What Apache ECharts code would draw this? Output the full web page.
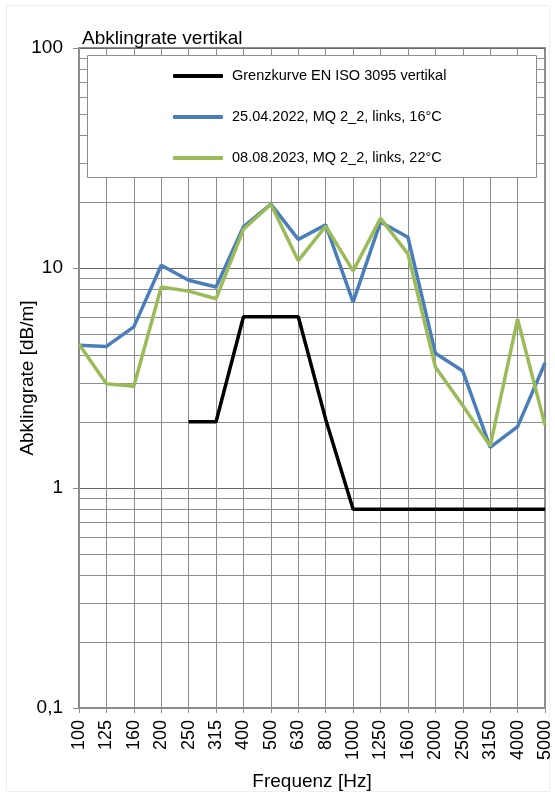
<!DOCTYPE html>
<html>
<head>
<meta charset="utf-8">
<script src="https://cdn.jsdelivr.net/npm/echarts@6/dist/echarts.min.js"></script>
<style>html,body{margin:0;padding:0;background:#fff}#chart{width:555px;height:796px}</style>
</head>
<body>
<div id="chart"></div>
<script>
const categories = ['100','125','160','200','250','315','400','500','630','800','1000','1250','1600','2000','2500','3150','4000','5000'];
const grenzkurve = [null,null,null,null,2,2,6,6,6,2.05,0.8,0.8,0.8,0.8,0.8,0.8,0.8,0.8];
const mq2022 = [4.45,4.4,5.4,10.3,8.8,8.2,15.4,19.5,13.5,15.7,7.0,16.2,13.8,4.1,3.4,1.53,1.9,3.7];
const mq2023 = [4.5,2.98,2.9,8.2,7.85,7.25,15.0,19.5,10.8,15.5,9.7,16.8,11.6,3.55,2.37,1.55,5.85,1.93];
const minorGridValues = [0.2,0.3,0.4,0.5,0.6,0.7,0.8,0.9,2,3,4,5,6,7,8,9,20,30,40,50,60,70,80,90];
const seriesNames = ['Grenzkurve EN ISO 3095 vertikal','25.04.2022, MQ 2_2, links, 16°C','08.08.2023, MQ 2_2, links, 22°C'];

const FONT = '"Liberation Sans", Arial, sans-serif';
const chart = echarts.init(document.getElementById('chart'), null, {renderer:'canvas'});
chart.setOption({
  animation:false,
  backgroundColor:'#fff',
  textStyle:{fontFamily:FONT},
  title:{text:'Abklingrate vertikal', left:77, top:24, textStyle:{fontFamily:FONT,fontSize:19,fontWeight:'normal',color:'#000'}},
  grid:{left:79,right:10,top:48,bottom:88,show:true,borderColor:'#8c8c8c',borderWidth:2,backgroundColor:'transparent',outerBoundsMode:'none',containLabel:false},
  graphic:[
    {type:'rect', z:0, shape:{x:6.5,y:5.5,width:543,height:786}, style:{fill:'none',stroke:'#eeeeee',lineWidth:1}, silent:true},
    {type:'rect', z:3, shape:{x:87.5,y:55.5,width:449,height:122}, style:{fill:'#fff',stroke:'#8c8c8c',lineWidth:1}, silent:true}
  ],
  legend:{
    data:seriesNames, orient:'vertical', left:173, top:68, itemWidth:50, itemHeight:4, itemGap:25,
    icon:'roundRect', z:5,
    textStyle:{fontFamily:FONT,fontSize:14.5,color:'#000',lineHeight:16,padding:[0,0,0,4]}, padding:0
  },
  xAxis:{
    type:'category', data:categories, boundaryGap:false,
    axisLine:{lineStyle:{color:'#8c8c8c',width:2}},
    axisTick:{show:true,alignWithLabel:true,length:5,lineStyle:{color:'#8c8c8c'}},
    axisLabel:{rotate:90,margin:12,fontFamily:FONT,fontSize:18,color:'#000',interval:0},
    splitLine:{show:true,lineStyle:{color:'#8c8c8c',width:1}},
    name:'Frequenz [Hz]', nameLocation:'middle', nameGap:64, nameMoveOverlap:false,
    nameTextStyle:{fontFamily:FONT,fontSize:19,color:'#000'}
  },
  yAxis:{
    type:'log', logBase:10, min:0.1, max:100,
    axisLine:{show:true,lineStyle:{color:'#8c8c8c',width:2}},
    axisTick:{show:true,length:6,lineStyle:{color:'#8c8c8c'}},
    axisLabel:{margin:16,fontFamily:FONT,fontSize:19,color:'#000',formatter:v=>String(+v.toPrecision(3)).replace('.',',')},
    splitLine:{show:true,lineStyle:{color:'#666',width:1}},
    name:'Abklingrate [dB/m]', nameLocation:'middle', nameGap:42, nameMoveOverlap:false,
    nameTextStyle:{fontFamily:FONT,fontSize:19,color:'#000'}
  },
  series:[
    {name:'grid-minor', type:'line', data:categories.map(()=>null), z:1, silent:true, symbol:'none',
     markLine:{silent:true, z:1, symbol:'none', label:{show:false}, animation:false,
       lineStyle:{type:'solid',color:'#8c8c8c',width:1},
       data:minorGridValues.map(v=>({yAxis:v}))}},
    {name:seriesNames[0], type:'line', data:grenzkurve, symbol:'none', z:3, color:'#000',
     lineStyle:{color:'#000',width:3.5}},
    {name:seriesNames[1], type:'line', data:mq2022, symbol:'none', z:3, color:'#4a7ebb',
     lineStyle:{color:'#4a7ebb',width:3.5}},
    {name:seriesNames[2], type:'line', data:mq2023, symbol:'none', z:3, color:'#9bbb59',
     lineStyle:{color:'#9bbb59',width:3.5}}
  ]
});
</script>
</body>
</html>
